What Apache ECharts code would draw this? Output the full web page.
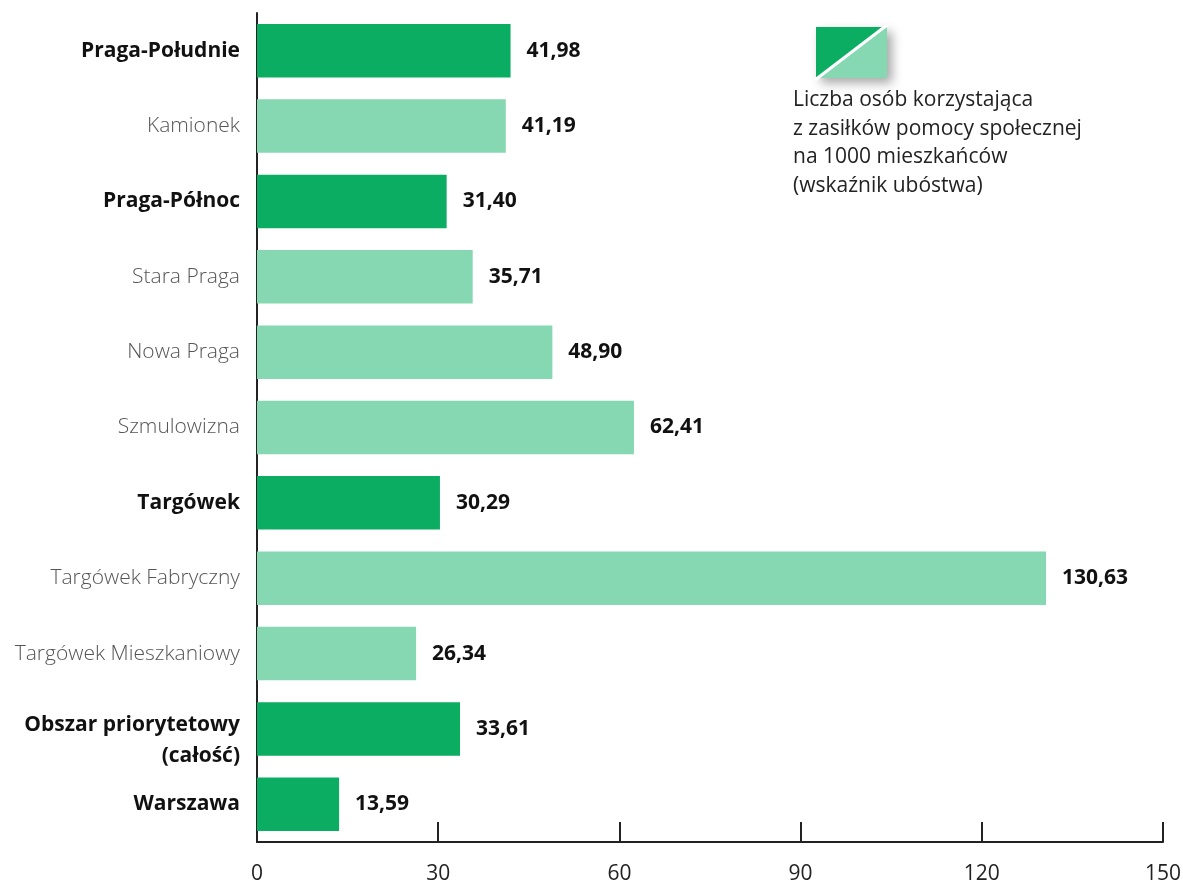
<!DOCTYPE html>
<html>
<head>
<meta charset="utf-8">
<script src="https://cdn.jsdelivr.net/npm/echarts@6/dist/echarts.min.js"></script>
<style>
  html, body { margin: 0; padding: 0; background: #fff; }
  #chart { width: 1183px; height: 882px; }
</style>
</head>
<body>
<div id="chart"></div>
<script>
// Areas, top to bottom
const categories = [
  'Praga-Południe', 'Kamionek', 'Praga-Północ', 'Stara Praga', 'Nowa Praga',
  'Szmulowizna', 'Targówek', 'Targówek Fabryczny', 'Targówek Mieszkaniowy',
  'Obszar priorytetowy\n(całość)', 'Warszawa'
];
// Persons on social assistance per 1000 inhabitants
const values = [41.98, 41.19, 31.40, 35.71, 48.90, 62.41, 30.29, 130.63, 26.34, 33.61, 13.59];
// true = district / whole area (dark bar, bold label), false = sub-area
const isMain = [true, false, true, false, false, false, true, false, false, true, true];
const xTicks = { min: 0, max: 150, interval: 30 };
const legendLines = [
  'Liczba osób korzystająca',
  'z zasiłków pomocy społecznej',
  'na 1000 mieszkańców',
  '(wskaźnik ubóstwa)'
];

const DARK = '#0bad62';
const LIGHT = '#85d8b1';
const FONT = '"Open Sans", "DejaVu Sans", sans-serif';

const chart = echarts.init(document.getElementById('chart'));

const fmt = v => v.toFixed(2).replace('.', ',');

chart.setOption({
  animation: false,
  grid: { left: 257, right: 20, top: 13, bottom: 40, containLabel: false, outerBoundsMode: 'none' },
  xAxis: {
    type: 'value',
    min: xTicks.min, max: xTicks.max, interval: xTicks.interval,
    axisLine: { show: true, lineStyle: { color: '#222', width: 2 } },
    axisTick: { show: true, inside: true, length: 20, lineStyle: { color: '#222', width: 2 } },
    splitLine: { show: false },
    axisLabel: { color: '#222', fontFamily: FONT, fontSize: 21, margin: 22 }
  },
  yAxis: {
    type: 'category',
    inverse: true,
    data: categories.map((c, i) => ({
      value: c,
      textStyle: i === 9 ? { padding: [24, 0, 0, 0] } : {}
    })),
    axisLine: { show: true, lineStyle: { color: '#222', width: 2 } },
    axisTick: { show: false },
    axisLabel: {
      margin: 17,
      fontFamily: FONT,
      fontSize: 21,
      lineHeight: 31,
      formatter: (val, idx) => isMain[idx] ? '{b|' + val.split('\n').join('}\n{b|') + '}' : '{n|' + val + '}',
      rich: {
        b: { fontFamily: FONT, fontSize: 21, fontWeight: 'bold', color: '#111', lineHeight: 31, align: 'right' },
        n: { fontFamily: FONT, fontSize: 21, fontWeight: 300, color: '#555', lineHeight: 31 }
      }
    }
  },
  series: [{
    type: 'bar',
    barCategoryGap: '29%',
    data: values.map((v, i) => ({ value: v, itemStyle: { color: isMain[i] ? DARK : LIGHT } })),
    label: {
      show: true,
      position: 'right',
      distance: 16,
      fontFamily: FONT,
      fontSize: 21,
      fontWeight: 'bold',
      color: '#111',
      formatter: p => fmt(p.value)
    }
  }],
  graphic: [
    // legend swatch with drop shadow
    {
      type: 'rect',
      shape: { x: 816, y: 27, width: 71, height: 51 },
      style: { fill: '#fff', shadowBlur: 10, shadowOffsetX: 5, shadowOffsetY: 5, shadowColor: 'rgba(0,0,0,0.35)' }
    },
    {
      type: 'polygon',
      shape: { points: [[816, 27], [886, 27], [816, 78]] },
      style: { fill: DARK }
    },
    {
      type: 'polygon',
      shape: { points: [[887, 27], [887, 78], [816, 78]] },
      style: { fill: LIGHT }
    },
    {
      type: 'line',
      shape: { x1: 887, y1: 25, x2: 815, y2: 80 },
      style: { stroke: '#fff', lineWidth: 3 }
    },
    {
      type: 'text',
      left: 793, top: 86,
      style: {
        text: legendLines.join('\n'),
        fontFamily: FONT, fontSize: 21, lineHeight: 28.5, fill: '#222'
      }
    }
  ]
});
</script>
</body>
</html>
